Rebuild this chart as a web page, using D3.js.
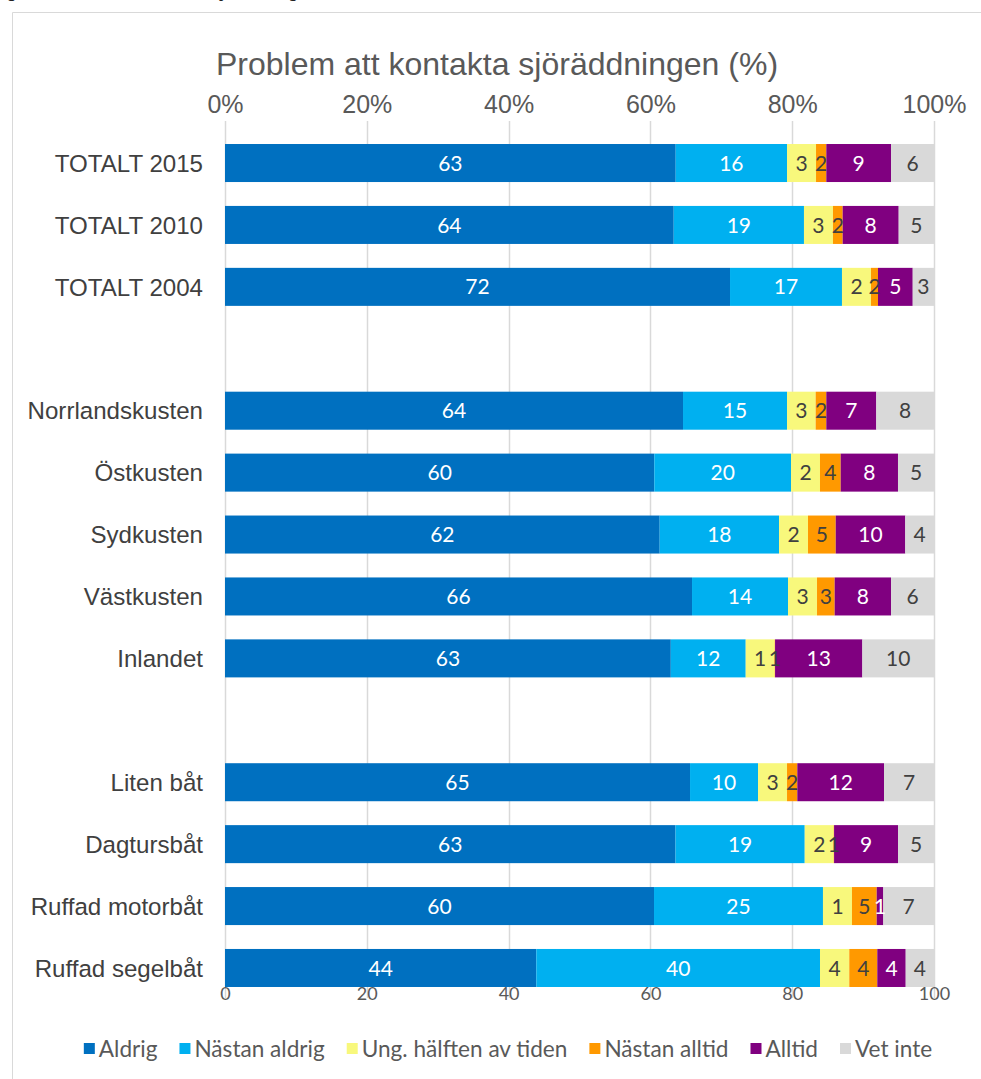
<!DOCTYPE html>
<html>
<head>
<meta charset="utf-8">
<script src="https://cdn.jsdelivr.net/npm/d3@7"></script>
<style>
  html, body { margin: 0; padding: 0; background: #ffffff; }
  svg { display: block; }
</style>
</head>
<body>
<svg id="chart" width="981" height="1079"></svg>
<script>
// ---------- DATA ----------
const categories = ["TOTALT 2015", "TOTALT 2010", "TOTALT 2004", "",
  "Norrlandskusten", "Östkusten", "Sydkusten", "Västkusten", "Inlandet", "",
  "Liten båt", "Dagtursbåt", "Ruffad motorbåt", "Ruffad segelbåt"];

const seriesNames = ["Aldrig", "Nästan aldrig", "Ung. hälften av tiden", "Nästan alltid", "Alltid", "Vet inte"];
const seriesColors = ["#0070C0", "#00B0F0", "#F8F87C", "#FF9900", "#800080", "#D9D9D9"];
const labelColors = ["#ffffff", "#ffffff", "#404040", "#404040", "#ffffff", "#404040"];

// Bar segment sizes (share of each bar, %)
const aldrig       = [63.57, 63.29, 71.23, null, 64.60, 60.55, 61.31, 65.87, 62.91, null, 65.59, 63.57, 60.51, 43.91];
const nastanAldrig = [15.70, 18.37, 15.79, null, 14.67, 19.28, 16.83, 13.54, 10.57, null,  9.59, 18.23, 23.83, 40.01];
const ungHalften   = [ 4.09,  4.09,  4.09, null,  4.04,  4.09,  4.09,  4.09,  4.09, null,  4.09,  4.09,  4.09,  4.13];
const nastanAlltid = [ 1.45,  1.37,  0.99, null,  1.50,  2.92,  3.91,  2.49,  0.05, null,  1.45,  0.05,  3.49,  3.95];
const alltid       = [ 9.13,  7.90,  4.90, null,  7.05,  8.08,  9.81,  7.95, 12.32, null, 12.23,  9.02,  0.93,  4.01];
const vetInte      = [ 6.06,  4.98,  3.00, null,  8.14,  5.08,  4.05,  6.06, 10.11, null,  7.05,  5.08,  7.15,  3.99];

// Data labels as printed in the chart
const aldrigLabels       = [63, 64, 72, null, 64, 60, 62, 66, 63, null, 65, 63, 60, 44];
const nastanAldrigLabels = [16, 19, 17, null, 15, 20, 18, 14, 12, null, 10, 19, 25, 40];
const ungHalftenLabels   = [ 3,  3,  2, null,  3,  2,  2,  3,  1, null,  3,  2,  1,  4];
const nastanAlltidLabels = [ 2,  2,  2, null,  2,  4,  5,  3,  1, null,  2,  1,  5,  4];
const alltidLabels       = [ 9,  8,  5, null,  7,  8, 10,  8, 13, null, 12,  9,  1,  4];
const vetInteLabels      = [ 6,  5,  3, null,  8,  5,  4,  6, 10, null,  7,  5,  7,  4];

const topTicks = [0, 0.2, 0.4, 0.6, 0.8, 1.0];
const bottomTicks = [0, 20, 40, 60, 80, 100];
const titleText = "Problem att kontakta sjöräddningen (%)";
const captionText = "Figur 12. Problem att kontakta sjöräddningen";

// ---------- BUILD ----------
const seriesValues = [aldrig, nastanAldrig, ungHalften, nastanAlltid, alltid, vetInte];
const seriesLabels = [aldrigLabels, nastanAldrigLabels, ungHalftenLabels, nastanAlltidLabels, alltidLabels, vetInteLabels];

const rows = categories.map((c, i) => {
  const r = { idx: i, name: c };
  seriesNames.forEach((s, k) => { r[s] = seriesValues[k][i] == null ? 0 : seriesValues[k][i]; });
  return r;
});

const stack = d3.stack().keys(seriesNames).offset(d3.stackOffsetExpand);
const stacked = stack(rows);

const svg = d3.select("#chart");
const W = 981, H = 1079;
const AXIS = "#595959";
const FONT = "'Liberation Sans', Arial, sans-serif";
const LFONT = "Lato, 'Noto Sans', sans-serif";

svg.append("rect").attr("width", W).attr("height", H).attr("fill", "#fff");

// caption fragment at very top (cut off by the page edge in the reference, only descenders show)
svg.append("text").attr("x", -7).attr("y", -3)
  .attr("font-family", "'Liberation Serif', 'Times New Roman', serif")
  .attr("font-style", "italic").attr("font-weight", "bold")
  .attr("font-size", 17).attr("fill", "#222").text(captionText);

// chart area border
svg.append("path").attr("d", "M12.5,1079 L12.5,12.5 L981,12.5")
  .attr("fill", "none").attr("stroke", "#D9D9D9").attr("stroke-width", 1);

const x = d3.scaleLinear().domain([0, 1]).range([225, 934]);
const y = d3.scaleBand().domain(d3.range(categories.length)).range([132, 999])
  .paddingInner(0.386).paddingOuter(0.194);

// gridlines
svg.append("g").selectAll("line").data(topTicks).join("line")
  .attr("x1", d => Math.round(x(d)) + 0.5).attr("x2", d => Math.round(x(d)) + 0.5)
  .attr("y1", 121).attr("y2", 998)
  .attr("stroke", "#D9D9D9").attr("stroke-width", 1.5);

// title
svg.append("text").attr("x", 497).attr("y", 75).attr("text-anchor", "middle")
  .attr("font-family", FONT).attr("font-size", 32).attr("fill", AXIS).text(titleText);

// top axis
const topAxis = d3.axisTop(x).tickValues(topTicks).tickFormat(d3.format(".0%")).tickSize(0).tickPadding(0);
const gTop = svg.append("g").attr("transform", "translate(0,113)").call(topAxis);
gTop.select(".domain").remove();
gTop.selectAll("text").attr("font-family", FONT).attr("font-size", 25).attr("fill", AXIS);

// bottom axis
const bottomScale = d3.scaleLinear().domain([0, 100]).range([225, 934]);
const bottomAxis = d3.axisBottom(bottomScale).tickValues(bottomTicks).tickFormat(d3.format("d")).tickSize(0).tickPadding(0);
const gBot = svg.append("g").attr("transform", "translate(0,987)").call(bottomAxis);
gBot.select(".domain").remove();
gBot.selectAll("text").attr("font-family", LFONT).attr("font-size", 18).attr("fill", AXIS);

// category labels
const yAxis = d3.axisLeft(y).tickFormat(i => categories[i]).tickSize(0).tickPadding(0);
const gLeft = svg.append("g").attr("transform", "translate(203,0)").call(yAxis);
gLeft.select(".domain").remove();
gLeft.selectAll("text").attr("font-family", FONT).attr("font-size", 24.1).attr("fill", "#404040")
  .attr("dy", "0.36em");

// bars
const gBars = svg.append("g");
stacked.forEach((layer, k) => {
  const g = gBars.append("g").attr("fill", seriesColors[k]);
  g.selectAll("rect").data(layer.filter((d, i) => seriesValues[k][i] != null)).join("rect")
    .attr("x", d => x(d[0]))
    .attr("width", d => Math.max(0, x(d[1]) - x(d[0])))
    .attr("y", d => y(d.data.idx))
    .attr("height", y.bandwidth());
});

// data labels
stacked.forEach((layer, k) => {
  const g = gBars.append("g");
  g.selectAll("text").data(layer.filter((d, i) => seriesLabels[k][i] != null)).join("text")
    .attr("x", d => (x(d[0]) + x(d[1])) / 2)
    .attr("y", d => y(d.data.idx) + y.bandwidth() / 2)
    .attr("dy", "0.36em")
    .attr("text-anchor", "middle")
    .attr("font-family", LFONT).attr("font-size", 21)
    .attr("fill", labelColors[k])
    .text(d => seriesLabels[k][d.data.idx]);
});

// legend
const gLeg = svg.append("g").attr("transform", "translate(0,1049)");
let cx = 0;
const items = [];
const GAP = 22;
seriesNames.forEach((s, k) => {
  const it = gLeg.append("g");
  it.append("rect").attr("x", 0).attr("y", -6).attr("width", 11).attr("height", 11).attr("fill", seriesColors[k]);
  const t = it.append("text").attr("x", 15).attr("y", 0).attr("dy", "0.36em")
    .attr("font-family", LFONT).attr("font-size", 22.6).attr("fill", AXIS).text(s);
  const w = 15 + t.node().getComputedTextLength();
  items.push({ it, x: cx, w });
  cx += w + GAP;
});
const totalW = cx - GAP;
const startX = 508 - totalW / 2;
items.forEach(o => o.it.attr("transform", `translate(${startX + o.x},0)`));
</script>
</body>
</html>
